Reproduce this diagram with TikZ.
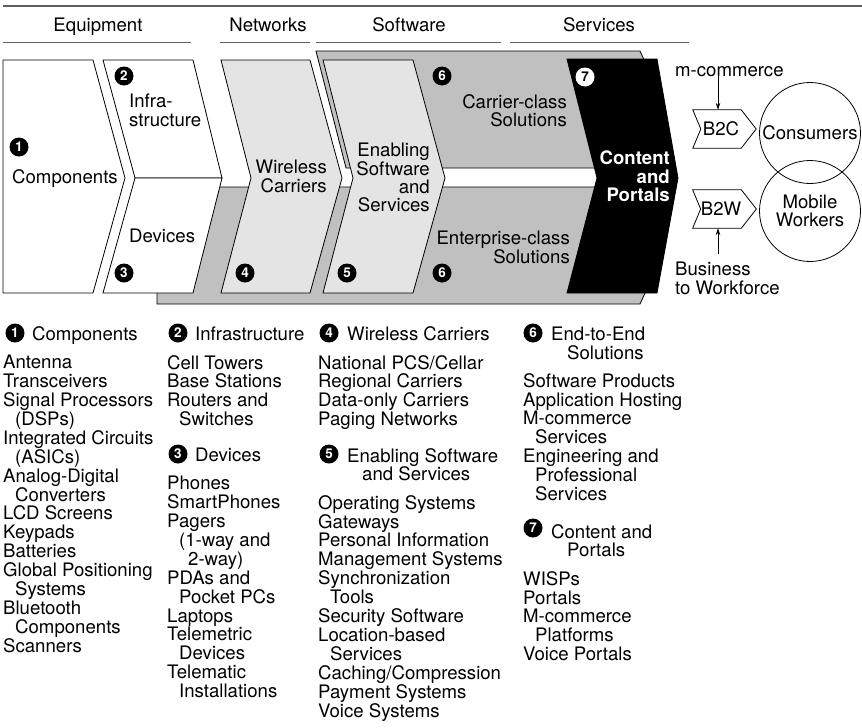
\documentclass[tikz,border=0pt]{standalone}
\usepackage{fontspec}
\setmainfont{TeX Gyre Heros}
\usepackage{tikz}
\usetikzlibrary{arrows.meta,positioning,calc}
\definecolor{platgray}{RGB}{192,192,192}
\definecolor{paneltint}{RGB}{228,228,228}
\definecolor{rulegray}{RGB}{95,95,95}
\newcommand{\ind}{\hspace*{12pt}}
\newcommand{\txtsize}{\fontsize{18.6}{18.4}\selectfont}

\begin{document}
\begin{tikzpicture}[x=1pt,y=-1pt,
    every node/.style={inner sep=0pt,font=\txtsize},
    chev/.style={draw=black,line width=0.8pt},
    numdot/.style={circle,fill=black,text=white,minimum size=19pt,
      font=\bfseries\fontsize{13.5}{13.5}\selectfont},
    listbox/.style={anchor=north west,align=left,
      font=\fontsize{18.6}{18.9}\selectfont},
    tag/.style={minimum width=40pt,minimum height=38pt},
    tip/.style={-{Stealth[length=7pt,width=4.5pt]},line width=0.8pt}
  ]
  \useasboundingbox (0,0) rectangle (862,728);

  % headings
  \draw[rulegray,line width=2pt] (3,6) -- (862,6);
  \node[anchor=base] (hequip) at (98,31) {Equipment};
  \node[anchor=base] (hnet) at (268,31) {Networks};
  \node[anchor=base] (hsoft) at (409,31) {Software};
  \node[anchor=base] (hserv) at (599,31) {Services};
  \draw[rulegray,line width=1pt] (3,42) -- (191,42) (220,42) -- (310,42)
    (316,42) -- (501,42) (510,42) -- (689,42);

  % gray platforms
  \draw[chev,fill=platgray] (157,187) -- (646,187) -- (646,291) -- (640,304) -- (157,304) -- cycle;
  \draw[chev,fill=platgray] (316,51) -- (640,51) -- (646,64) -- (646,168) -- (346,168) -- cycle;

  % value chain
  \draw[chev,fill=white] (3,60) -- (93,60) -- (125,178) -- (93,293) -- (3,293) -- cycle;
  \draw[chev,fill=white] (103,60) -- (193,60) -- (222,178) -- (135,178) -- cycle;
  \draw[chev,fill=white] (135,178) -- (222,178) -- (193,293) -- (103,293) -- cycle;
  \draw[chev,fill=paneltint] (221,60) -- (310,60) -- (342,178) -- (310,293) -- (221,293) -- (251,178) -- cycle;
  \draw[chev,fill=paneltint] (323,60) -- (413,60) -- (445,178) -- (413,293) -- (323,293) -- (353,178) -- cycle;
  \draw[chev,fill=black] (567,59) -- (657,59) -- (678,178) -- (657,293) -- (567,293) -- (597,178) -- cycle;

  \node[numdot] (d1) at (19,147) {1};
  \node[numdot] (d2) at (124,76) {2};
  \node[numdot] (d3) at (124,273) {3};
  \node[numdot] (d4) at (245,273) {4};
  \node[numdot] (d5) at (347,273) {5};
  \node[numdot] (d6a) at (442,76) {6};
  \node[numdot] (d6b) at (442,273) {6};
  \node[numdot,fill=white,text=black] (d7) at (585,77) {7};

  \node[anchor=base west] (comp) at (12,183) {Components};
  \node[anchor=north west,align=left] (infra) at (129,94) {Infra-\\structure};
  \node[anchor=base west] (dev) at (129,242) {Devices};
  \node[anchor=north east,align=right] (wcar) at (327,160) {Wireless\\Carriers};
  \node[anchor=north east,align=right] (enab) at (430,143) {Enabling\\Software\\and\\Services};
  \node[anchor=north east,align=right] (ccls) at (567,94) {Carrier-class\\Solutions};
  \node[anchor=north east,align=right] (ecls) at (570,231) {Enterprise-class\\Solutions};
  \node[anchor=north east,align=right,text=white,font=\bfseries\txtsize] (cport) at (670,151) {Content\\and\\Portals};

  % markets
  \node[tag] (b2c) at (721,129) {B2C};
  \node[tag] (b2w) at (721,209) {B2W};
  \foreach \t in {b2c,b2w}
    \draw[chev] ([xshift=-8pt]\t.north west) -- (\t.north east) -- ([xshift=15pt]\t.east)
      -- (\t.south east) -- ([xshift=-8pt]\t.south west) -- (\t.west) -- cycle;
  \node[draw,circle,line width=0.8pt,minimum size=101pt] (cons) at (810,133) {Consumers};
  \node[draw,circle,line width=0.8pt,minimum size=101pt,align=center] (mobw) at (810,211) {Mobile\\Workers};
  \node[anchor=base west] (mcom) at (675,76) {m-commerce};
  \node[anchor=north west,align=left] (b2wf) at (675,262) {Business\\to Workforce};
  \draw[tip] ([xshift=-3pt]b2c.north |- mcom.south) -- ([xshift=-3pt]b2c.north);
  \draw[tip] ([xshift=-3pt,yshift=8pt]b2w.south |- b2wf.north) -- ([xshift=-3pt]b2w.south);

  % legend
  \node[numdot] (k1) at (15,333) {1};
  \node[anchor=base west] (k1t) at (32,340) {Components};
  \node[listbox] (l1) at (3,355) {Antenna\\Transceivers\\Signal Processors\\\ind(DSPs)\\
    Integrated Circuits\\\ind(ASICs)\\Analog-Digital\\\ind Converters\\LCD Screens\\
    Keypads\\Batteries\\Global Positioning\\\ind Systems\\Bluetooth\\\ind Components\\Scanners};

  \node[numdot] (k2) at (178,333) {2};
  \node[anchor=base west] (k2t) at (195,340) {Infrastructure};
  \node[listbox] (l2) at (167,355) {Cell Towers\\Base Stations\\Routers and\\\ind Switches};
  \node[numdot] (k3) at (178,454) {3};
  \node[anchor=base west] (k3t) at (195,461) {Devices};
  \node[listbox] (l3) at (167,476) {Phones\\SmartPhones\\Pagers\\\ind(1-way and\\\hspace*{21pt}2-way)\\
    PDAs and\\\ind Pocket PCs\\Laptops\\Telemetric\\\ind Devices\\Telematic\\\ind Installations};

  \node[numdot] (k4) at (329,333) {4};
  \node[anchor=base west] (k4t) at (347,340) {Wireless Carriers};
  \node[listbox] (l4) at (318,355) {National PCS/Cellar\\Regional Carriers\\Data-only Carriers\\Paging Networks};
  \node[numdot] (k5) at (329,454) {5};
  \node[listbox,font=\txtsize] (k5t) at (347,448) {Enabling Software\\\hspace*{15pt}and Services};
  \node[listbox] (l5) at (318,495) {Operating Systems\\Gateways\\Personal Information\\Management Systems\\
    Synchronization\\\ind Tools\\Security Software\\Location-based\\\ind Services\\
    Caching/Compression\\Payment Systems\\Voice Systems};

  \node[numdot] (k6) at (533,333) {6};
  \node[listbox,font=\txtsize] (k6t) at (551,327) {End-to-End\\\hspace*{16pt}Solutions};
  \node[listbox] (l6) at (523,373) {Software Products\\Application Hosting\\M-commerce\\\ind Services\\
    Engineering and\\\ind Professional\\\ind Services};
  \node[numdot] (k7) at (533,528) {7};
  \node[listbox,font=\txtsize] (k7t) at (551,524) {Content and\\\hspace*{16pt}Portals};
  \node[listbox] (l7) at (523,571) {WISPs\\Portals\\M-commerce\\\ind Platforms\\Voice Portals};
\end{tikzpicture}
\end{document}
